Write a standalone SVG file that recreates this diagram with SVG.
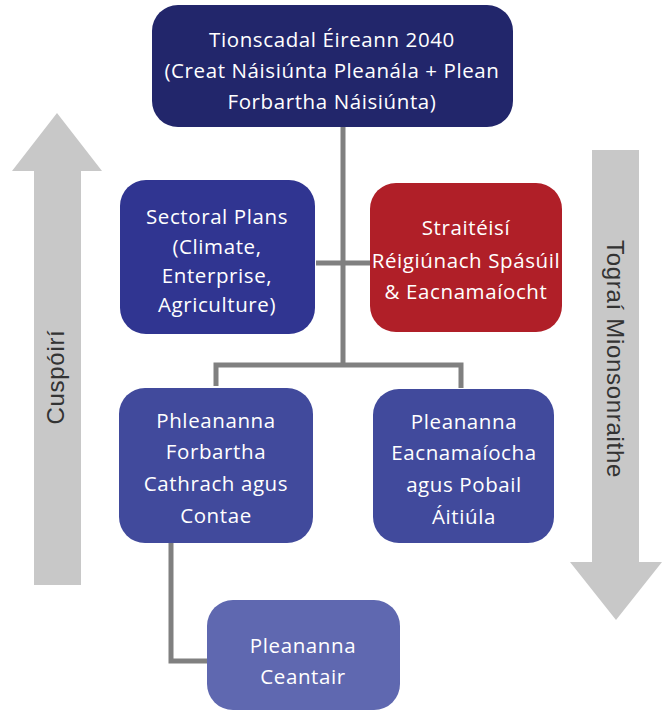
<svg xmlns="http://www.w3.org/2000/svg" width="662" height="715" viewBox="0 0 662 715">
<style>
.t{font-family:"Open Sans",Lato,"Liberation Sans",sans-serif;font-size:20.5px;letter-spacing:0.6px;fill:#ffffff;text-anchor:middle}
.a{font-family:"Liberation Sans",Arial,sans-serif;font-size:24px;letter-spacing:0.7px;fill:#333333;text-anchor:middle}
.c{stroke:#808080;stroke-width:5;fill:none}
.arr{fill:#c8c8c8}
</style>
<rect width="662" height="715" fill="#ffffff"/>
<g id="arrow-up">
<polygon class="arr" points="57,113 102,171 81,171 81,585 34,585 34,171 12,171"/>
<text class="a" transform="translate(64,377) rotate(-90)">Cuspóirí</text>
</g>
<g id="arrow-down">
<polygon class="arr" points="592,150 639,150 639,562 662,562 616,620 570,562 592,562"/>
<text class="a" transform="translate(607,359) rotate(90)">Tograí Mionsonraithe</text>
</g>
<g id="connectors">
<line class="c" x1="343" y1="127" x2="343" y2="365"/>
<line class="c" x1="316" y1="263" x2="370" y2="263"/>
<polyline class="c" points="216,386 216,365 461,365 461,388"/>
<polyline class="c" points="171,543 171,661 208,661"/>
</g>
<g id="n-top">
<rect x="152" y="5" width="361" height="122" rx="26" fill="#22266b"/>
<text class="t" x="332" y="47">Tionscadal Éireann 2040</text>
<text class="t" x="332" y="78">(Creat Náisiúnta Pleanála + Plean</text>
<text class="t" x="332" y="109">Forbartha Náisiúnta)</text>
</g>
<g id="n-sectoral">
<rect x="120" y="180" width="195" height="154" rx="26" fill="#303591"/>
<text class="t" x="217" y="224">Sectoral Plans</text>
<text class="t" x="217" y="254">(Climate,</text>
<text class="t" x="217" y="283">Enterprise,</text>
<text class="t" x="217" y="312">Agriculture)</text>
</g>
<g id="n-regional">
<rect x="370" y="183" width="192" height="149" rx="26" fill="#b01f28"/>
<text class="t" x="466" y="235">Straitéisí</text>
<text class="t" x="466" y="268">Réigiúnach Spásúil</text>
<text class="t" x="466" y="299">&amp; Eacnamaíocht</text>
</g>
<g id="n-county">
<rect x="119" y="388" width="194" height="155" rx="26" fill="#414a9c"/>
<text class="t" x="216" y="428">Phleananna</text>
<text class="t" x="216" y="459">Forbartha</text>
<text class="t" x="216" y="491">Cathrach agus</text>
<text class="t" x="216" y="523">Contae</text>
</g>
<g id="n-local">
<rect x="373" y="389" width="181" height="154" rx="26" fill="#414a9c"/>
<text class="t" x="464" y="429">Pleananna</text>
<text class="t" x="464" y="460">Eacnamaíocha</text>
<text class="t" x="464" y="492">agus Pobail</text>
<text class="t" x="464" y="524">Áitiúla</text>
</g>
<g id="n-area">
<rect x="207" y="600" width="193" height="110" rx="26" fill="#5f68b0"/>
<text class="t" x="303" y="653">Pleananna</text>
<text class="t" x="303" y="684">Ceantair</text>
</g>
</svg>
